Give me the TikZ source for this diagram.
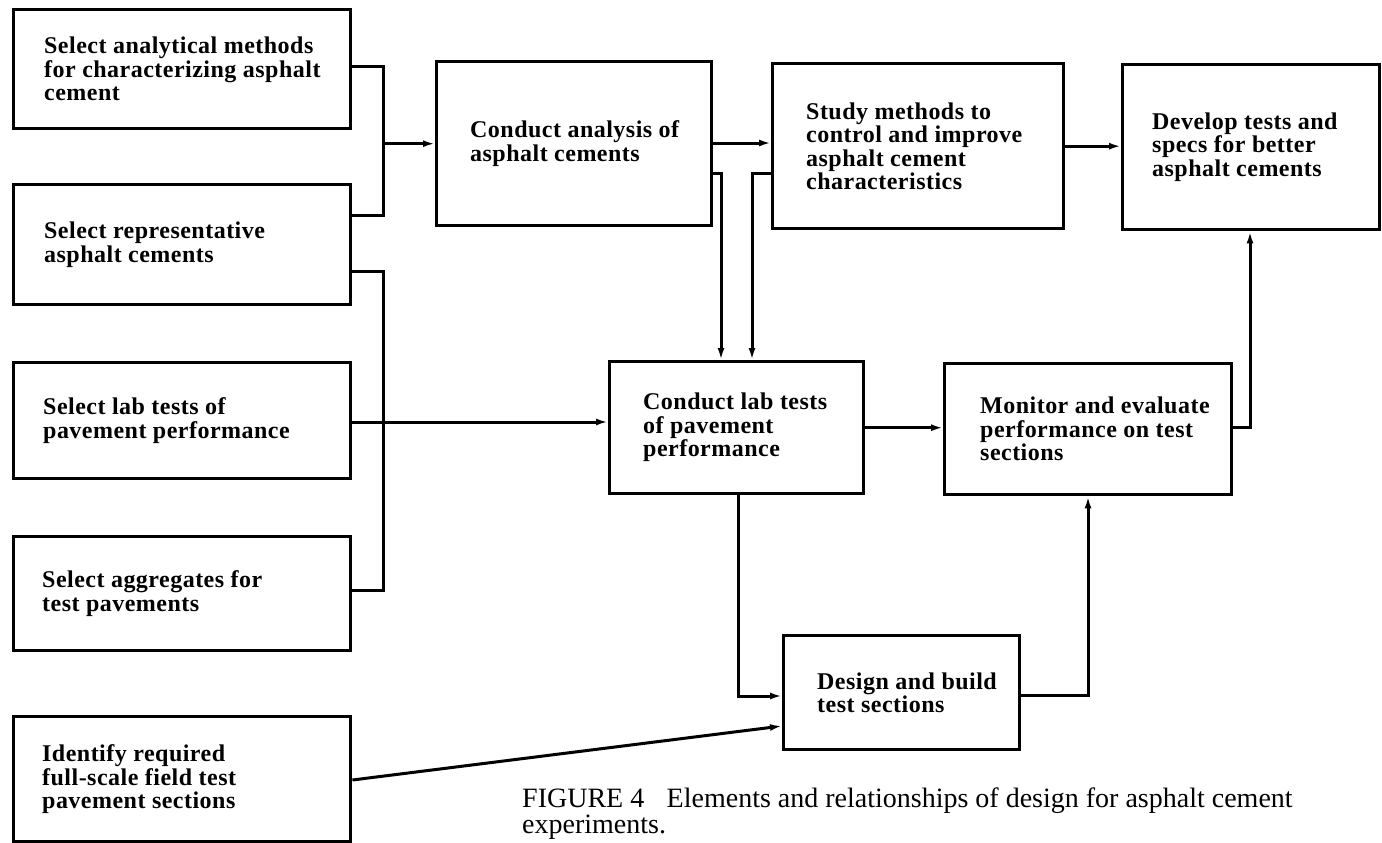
\documentclass[tikz,border=0pt]{standalone}
\usepackage{fontspec}
\setmainfont{Liberation Serif}
\newfontfamily\boxfont[LetterSpace=2.0]{Liberation Serif}
\usetikzlibrary{arrows.meta}
\begin{document}
\begin{tikzpicture}[x=1pt,y=-1pt,
  box/.style={draw, line width=3.4pt, anchor=north west, inner sep=0pt},
  lbl/.style={anchor=west, align=left, inner sep=0pt, font=\boxfont\bfseries\fontsize{24}{23.5}\selectfont},
  conn/.style={line width=3pt},
  arr/.style={conn, -{Latex[length=12pt,width=7pt]}},
  captxt/.style={anchor=base west, inner sep=0pt, font=\fontsize{28}{26}\selectfont}
]
\useasboundingbox (0,0) rectangle (1382,843);
% boxes
\node[box, minimum width=337pt, minimum height=119pt] (b1) at (12,8) {};
\node[box, minimum width=337pt, minimum height=120pt] (b2) at (12,183) {};
\node[box, minimum width=337pt, minimum height=116pt] (b3) at (12,361) {};
\node[box, minimum width=337pt, minimum height=114pt] (b4) at (12,535) {};
\node[box, minimum width=337pt, minimum height=125pt] (b5) at (12,715) {};
\node[box, minimum width=275pt, minimum height=164pt] (ca) at (435,60) {};
\node[box, minimum width=291pt, minimum height=165pt] (st) at (771,62) {};
\node[box, minimum width=257pt, minimum height=165pt] (dv) at (1121,63) {};
\node[box, minimum width=254pt, minimum height=132pt] (cl) at (608,360) {};
\node[box, minimum width=287pt, minimum height=131pt] (mo) at (943,362) {};
\node[box, minimum width=236pt, minimum height=114pt] (ds) at (782,634) {};
% labels
\node[lbl] (b1t) at ([xshift=32pt]b1.west) {Select analytical methods\\for characterizing asphalt\\cement};
\node[lbl] (b2t) at ([xshift=32pt]b2.west) {Select representative\\asphalt cements};
\node[lbl] (b3t) at ([xshift=31pt]b3.west) {Select lab tests of\\pavement performance};
\node[lbl] (b4t) at ([xshift=30pt]b4.west) {Select aggregates for\\test pavements};
\node[lbl] (b5t) at ([xshift=30pt]b5.west) {Identify required\\full-scale field test\\pavement sections};
\node[lbl] (cat) at ([xshift=35pt]ca.west) {Conduct analysis of\\asphalt cements};
\node[lbl] (stt) at ([xshift=35pt]st.west) {Study methods to\\control and improve\\asphalt cement\\characteristics};
\node[lbl] (dvt) at ([xshift=31pt]dv.west) {Develop tests and\\specs for better\\asphalt cements};
\node[lbl] (clt) at ([xshift=35pt]cl.west) {Conduct lab tests\\of pavement\\performance};
\node[lbl] (mot) at ([xshift=37pt]mo.west) {Monitor and evaluate\\performance on test\\sections};
\node[lbl] (dst) at ([xshift=35pt]ds.west) {Design and build\\test sections};
% junction coordinates
\coordinate (jA) at (383,67);
\coordinate (jA2) at (383,215);
\coordinate (jB) at (383,271);
\coordinate (jB2) at (383,590);
\coordinate (jC) at (721,173);
\coordinate (jD) at (752,173);
\coordinate (jE) at (1250,427);
\coordinate (jF) at (738,696);
\coordinate (jG) at (1088,695);
\coordinate (jH) at (0,422);
\coordinate (jI) at (0,143);
\coordinate (jK) at (0,780);
\coordinate (jL) at (0,726);
% connectors
\draw[conn] (b1.east |- jA) -- (jA) -- (jA2) -- (b2.east |- jA2);
\draw[arr] (ca.west -| jA) -- (ca.west);
\draw[conn] (b2.east |- jB) -- (jB) -- (jB2) -- (b4.east |- jB2);
\draw[arr] (b3.east |- jH) -- (cl.west |- jH);
\draw[arr] (ca.east |- jI) -- (st.west |- jI);
\draw[arr] (ca.east |- jC) -- (jC) -- (jC |- cl.north);
\draw[arr] (st.west |- jD) -- (jD) -- (jD |- cl.north);
\draw[arr] (st.east) -- (dv.west |- st.east);
\draw[arr] (cl.east) -- (mo.west |- cl.east);
\draw[arr] (mo.east |- jE) -- (jE) -- (jE |- dv.south);
\draw[arr] (cl.south -| jF) -- (jF) -- (ds.west |- jF);
\draw[arr] (b5.east |- jK) -- (ds.west |- jL);
\draw[arr] (ds.east |- jG) -- (jG) -- (jG |- mo.south);
% caption
\node[captxt] (cap1) at (522,807) {FIGURE 4\hspace{0.8em}Elements and relationships of design for asphalt cement};
\node[captxt] (cap2) at (cap1.base west |- 0,833) {experiments.};
\end{tikzpicture}
\end{document}
